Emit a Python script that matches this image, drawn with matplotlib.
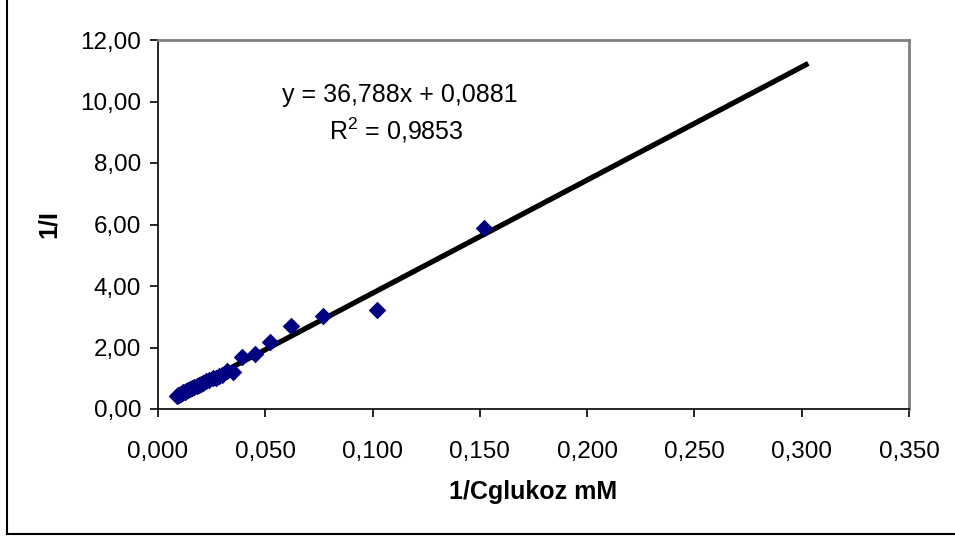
import matplotlib.pyplot as plt
import matplotlib.ticker as mticker
from matplotlib.lines import Line2D
import numpy as np

plt.rcParams['font.family'] = ['Liberation Sans', 'DejaVu Sans']
plt.rcParams['mathtext.fontset'] = 'custom'
plt.rcParams['mathtext.rm'] = 'Liberation Sans'

# 1/C glucose (mM^-1) and 1/I values
inv_c = [0.0090, 0.0095, 0.0100, 0.0105, 0.0110, 0.0118, 0.0125, 0.0132,
         0.0140, 0.0150, 0.0160, 0.0170, 0.0180, 0.0190, 0.0200, 0.0212,
         0.0225, 0.0240, 0.0255, 0.0270, 0.0285, 0.0300, 0.0320, 0.0350,
         0.0390, 0.0450, 0.0520, 0.0620, 0.0770, 0.1020, 0.1520]
inv_i = [0.42, 0.47, 0.45, 0.50, 0.52, 0.55, 0.56, 0.60,
         0.62, 0.66, 0.68, 0.72, 0.74, 0.78, 0.80, 0.86,
         0.90, 0.93, 1.00, 1.02, 1.08, 1.12, 1.22, 1.20,
         1.68, 1.80, 2.18, 2.70, 3.02, 3.22, 5.90]

# trendline from the chart
slope = 36.788
intercept = 0.0881
r2 = 0.9853
line_end = 0.302

fig = plt.figure(figsize=(9.55, 5.37), dpi=100)
ax = fig.add_axes([158/955, 1-409/537, (909-158)/955, (409-40)/537])

xl = np.array([min(inv_c), line_end])
ax.plot(xl, slope*xl + intercept, color='black', lw=3.8, zorder=2)
ax.scatter(inv_c, inv_i, marker='D', s=80, color='#000080', zorder=3, linewidths=0)

ax.set_xlim(0, 0.35)
ax.set_ylim(0, 12)
ax.set_xticks(np.arange(0, 0.351, 0.05))
ax.set_yticks(np.arange(0, 12.1, 2))
ax.xaxis.set_major_formatter(mticker.FuncFormatter(lambda v, p: f'{v:.3f}'.replace('.', ',')))
ax.yaxis.set_major_formatter(mticker.FuncFormatter(lambda v, p: f'{v:.2f}'.replace('.', ',')))
ax.tick_params(labelsize=17.5, direction='out', length=6, width=1.2, color='black', pad=6)
ax.tick_params(axis='x', pad=17)

for s in ['top', 'right']:
    ax.spines[s].set_color('#808080')
    ax.spines[s].set_linewidth(2)
for s in ['left', 'bottom']:
    ax.spines[s].set_color('black')
    ax.spines[s].set_linewidth(1.2)

ax.set_xlabel('1/Cglukoz mM', fontsize=18, fontweight='bold', labelpad=12)
ax.set_ylabel('1/I', fontsize=18, fontweight='bold', labelpad=14)

ax.text(0.322, 0.851, f'y = {slope:.3f}x + {intercept:.4f}'.replace('.', ','),
        transform=ax.transAxes, ha='center', va='center', fontsize=18)
ax.text(0.318, 0.756, ('R$^2$ = ' + f'{r2:.4f}').replace('.', ','),
        transform=ax.transAxes, ha='center', va='center', fontsize=18)

# chart area border (only left and bottom visible in the reference)
fig.add_artist(Line2D([6.5/955, 6.5/955], [1-534/537, 1], color='black', lw=1.5))
fig.add_artist(Line2D([6.5/955, 1], [1-534/537, 1-534/537], color='black', lw=1.5))

fig.savefig('out.png', dpi=100)
